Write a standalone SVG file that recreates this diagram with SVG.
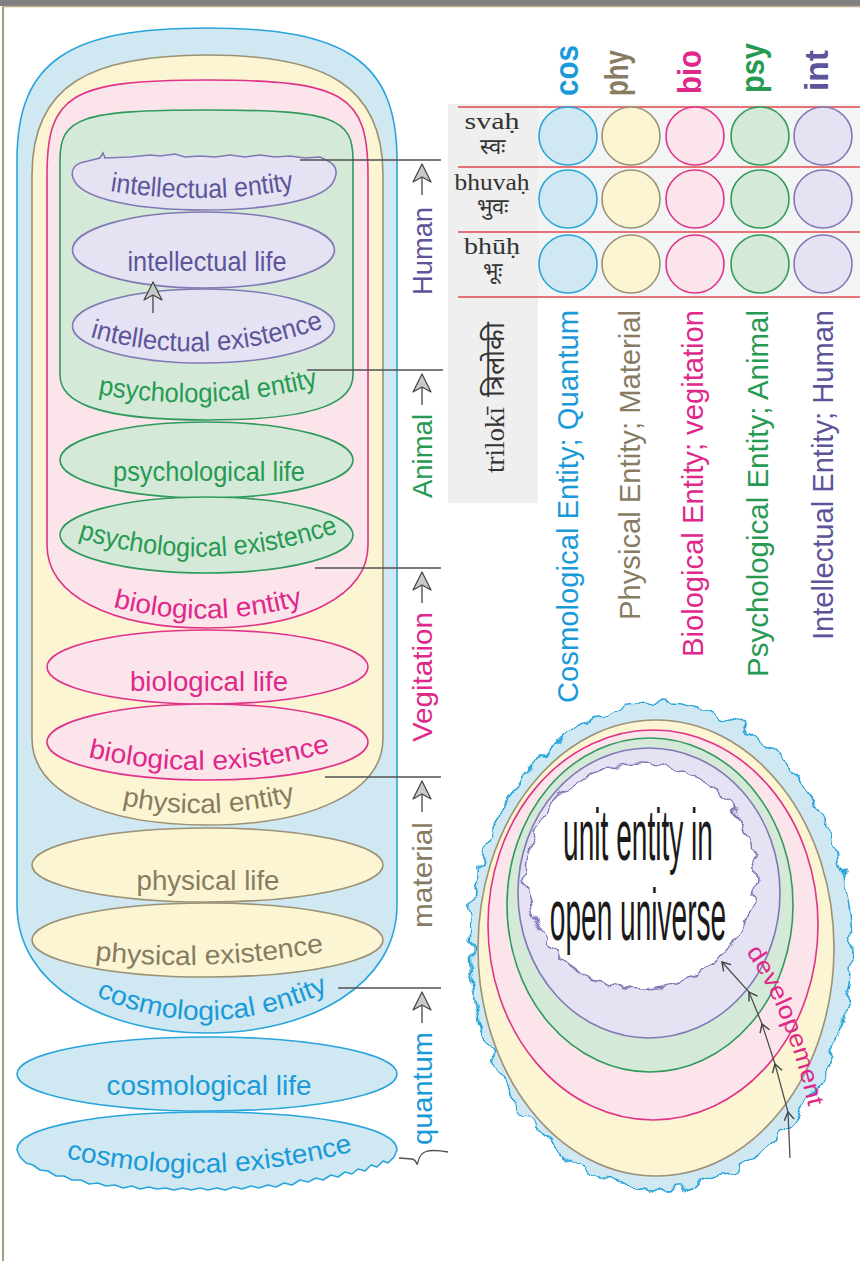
<svg xmlns="http://www.w3.org/2000/svg" width="860" height="1261" viewBox="0 0 860 1261">
<defs>
<style>
.s{font-family:"Liberation Sans",Arial,"Noto Sans",sans-serif}
.sr{font-family:"Liberation Serif","DejaVu Serif","Noto Serif",serif;fill:#333}
.cos{fill:#cfe8f2;stroke:#2aa5dc;stroke-width:1.6}
.phy{fill:#fcf5d3;stroke:#9c9175;stroke-width:1.6}
.bio{fill:#fce4eb;stroke:#e0338a;stroke-width:1.6}
.psy{fill:#d4e9d8;stroke:#2f9a5c;stroke-width:1.6}
.int{fill:#e4e2f3;stroke:#8079b5;stroke-width:1.6}
.cost{fill:#1a9ad8}.phyt{fill:#877c62}.biot{fill:#e0288a}.psyt{fill:#279a52}.intt{fill:#5d5499}
.lbl{font-size:27px}
.conn{stroke:#505050;stroke-width:1.3;fill:none}
</style>
<g id="arw"><line x1="0" y1="0" x2="0" y2="31" stroke="#444" stroke-width="1.3"/><path d="M0,0 L-9,18 L0,13 L9,18 Z" fill="#c9c9c9" stroke="#444" stroke-width="1.2" stroke-linejoin="round"/></g>
<marker id="chev" viewBox="-10 -6 12 12" refX="0" refY="0" markerWidth="12" markerHeight="12" orient="auto" markerUnits="userSpaceOnUse"><path d="M-8,-5 L0,0 L-8,5" fill="none" stroke="#404040" stroke-width="1.4"/></marker>
<filter id="wavy" x="-10%" y="-10%" width="120%" height="120%"><feTurbulence type="fractalNoise" baseFrequency="0.07" numOctaves="1" seed="4" result="n"/><feDisplacementMap in="SourceGraphic" in2="n" scale="22" xChannelSelector="R" yChannelSelector="G"/></filter>
<filter id="wavy2" x="-10%" y="-10%" width="120%" height="120%"><feTurbulence type="fractalNoise" baseFrequency="0.08" numOctaves="1" seed="9" result="n"/><feDisplacementMap in="SourceGraphic" in2="n" scale="18" xChannelSelector="R" yChannelSelector="G"/></filter>
<path id="pIE" d="M110,191 Q205,206 295,189"/>
<path id="pIX" d="M90,337 Q207,370 325,327"/>
<path id="pPE" d="M98,394 Q207,414 318,386"/>
<path id="pPX" d="M78,538 Q207,578 340,532"/>
<path id="pBE" d="M113,607 Q207,631 303,605"/>
<path id="pBX" d="M88,757 Q207,785 330,752"/>
<path id="pHE" d="M122,805 Q207,823 295,801"/>
<path id="pHX" d="M95,960 Q207,973 323,952"/>
<path id="pCE" d="M96,996 Q207,1046 327,992"/>
<path id="pCX" d="M66,1158 Q207,1191 354,1151"/>
<path id="pDev" d="M746,952 Q787,1010 810,1114"/>
</defs>
<rect width="860" height="1261" fill="#ffffff"/>
<rect x="0" y="0" width="860" height="6" fill="#7f7f7f"/>
<line x1="3" y1="6.5" x2="860" y2="6.5" stroke="#b8ad88" stroke-width="1.5"/>
<line x1="3" y1="6.5" x2="3" y2="1261" stroke="#9c9175" stroke-width="1.8"/>

<g id="capsule-cosmological"><path class="cos" d="M17,160 C17,60 70,28 207,28 C344,28 397,60 397,160 L397,905 C397,985 310,1033 207,1033 C104,1033 17,985 17,905 Z"/></g>
<g id="capsule-physical"><path class="phy" d="M32,175 C32,85 90,55 207,55 C325,55 383,85 383,175 L383,738 C383,793 310,825 207,825 C104,825 32,793 32,738 Z"/></g>
<g id="capsule-biological"><path class="bio" d="M47,175 C47,95 70,80 207,80 C345,80 368,95 368,175 L368,545 C368,595 305,628 207,628 C110,628 47,595 47,545 Z"/></g>
<g id="capsule-psychological"><path class="psy" d="M60,160 C60,118 80,110 207,110 C334,110 353,118 353,160 L353,375 C353,400 324,420 207,420 C90,420 60,400 60,375 Z"/></g>

<g id="intellectual-entity"><path class="int" d="M73,178 C70,168 76,163 88,161 L100,158 L103,153 L105,158 L130,157 L150,155 L160,156 L175,154 L185,157 L200,156 L215,157 L230,155 L245,157 L260,155 L275,157 L290,156 L305,158 L320,157 L328,161 C338,166 338,175 332,184 C320,200 270,210 205,210 C140,210 80,200 73,178 Z"/><text class="s lbl intt"><textPath href="#pIE" textLength="185" lengthAdjust="spacingAndGlyphs">intellectual entity</textPath></text></g>
<g id="intellectual-life"><ellipse class="int" cx="203.5" cy="250" rx="131" ry="38"/><text class="s lbl intt" x="207" y="271" text-anchor="middle" textLength="159" lengthAdjust="spacingAndGlyphs">intellectual life</text></g>
<g id="intellectual-existence"><ellipse class="int" cx="203.5" cy="326" rx="131" ry="37"/><text class="s lbl intt"><textPath href="#pIX" textLength="238" lengthAdjust="spacingAndGlyphs">intellectual existence</textPath></text></g>
<g id="psychological-entity"><text class="s lbl psyt"><textPath href="#pPE" textLength="222" lengthAdjust="spacingAndGlyphs">psychological entity</textPath></text></g>
<g id="psychological-life"><ellipse class="psy" cx="206.5" cy="460" rx="146.5" ry="38"/><text class="s lbl psyt" x="209" y="481" text-anchor="middle" textLength="192" lengthAdjust="spacingAndGlyphs">psychological life</text></g>
<g id="psychological-existence"><ellipse class="psy" cx="206.5" cy="535" rx="146.5" ry="38"/><text class="s lbl psyt"><textPath href="#pPX" textLength="265" lengthAdjust="spacingAndGlyphs">psychological existence</textPath></text></g>
<g id="biological-entity"><text class="s lbl biot"><textPath href="#pBE" textLength="192" lengthAdjust="spacingAndGlyphs">biological entity</textPath></text></g>
<g id="biological-life"><ellipse class="bio" cx="207.5" cy="667" rx="160.5" ry="37"/><text class="s lbl biot" x="209" y="691" text-anchor="middle" textLength="158" lengthAdjust="spacingAndGlyphs">biological life</text></g>
<g id="biological-existence"><ellipse class="bio" cx="207.5" cy="742" rx="160.5" ry="38"/><text class="s lbl biot"><textPath href="#pBX" textLength="245" lengthAdjust="spacingAndGlyphs">biological existence</textPath></text></g>
<g id="physical-entity"><text class="s lbl phyt"><textPath href="#pHE" textLength="175" lengthAdjust="spacingAndGlyphs">physical entity</textPath></text></g>
<g id="physical-life"><ellipse class="phy" cx="207.5" cy="865" rx="175.5" ry="37"/><text class="s lbl phyt" x="208" y="890" text-anchor="middle" textLength="143" lengthAdjust="spacingAndGlyphs">physical life</text></g>
<g id="physical-existence"><ellipse class="phy" cx="207.5" cy="940" rx="175.5" ry="37"/><text class="s lbl phyt"><textPath href="#pHX" textLength="230" lengthAdjust="spacingAndGlyphs">physical existence</textPath></text></g>
<g id="cosmological-entity"><text class="s lbl cost"><textPath href="#pCE" textLength="240" lengthAdjust="spacingAndGlyphs">cosmological entity</textPath></text></g>
<g id="cosmological-life"><ellipse class="cos" cx="207" cy="1074" rx="190" ry="37"/><text class="s lbl cost" x="209" y="1095" text-anchor="middle" textLength="205" lengthAdjust="spacingAndGlyphs">cosmological life</text></g>
<g id="cosmological-existence"><path class="cos" stroke-linejoin="round" d="M17,1150 C17,1127 100,1112 207,1112 C314,1112 397,1127 397,1150 L394,1157 L388,1163 L383,1161 L377,1167 L371,1165 L365,1171 L358,1169 L352,1174 L345,1172 L338,1177 L331,1175 L323,1180 L316,1178 L308,1182 L300,1180 L292,1185 L284,1183 L276,1187 L268,1185 L259,1188 L251,1186 L242,1189 L234,1187 L225,1190 L217,1188 L208,1190 L200,1188 L191,1190 L183,1188 L174,1190 L166,1188 L157,1189 L149,1187 L140,1189 L132,1186 L123,1188 L115,1185 L106,1186 L98,1183 L89,1184 L81,1180 L72,1180 L64,1176 L56,1176 L48,1171 L40,1170 L33,1165 L26,1163 L20,1157 Z"/><text class="s lbl cost"><textPath href="#pCX" textLength="290" lengthAdjust="spacingAndGlyphs">cosmological existence</textPath></text></g>

<g id="level-labels" class="s" font-size="28">
<text class="intt" transform="translate(432,295) rotate(-90)" textLength="88" lengthAdjust="spacingAndGlyphs">Human</text>
<text class="psyt" transform="translate(432,498) rotate(-90)" textLength="84" lengthAdjust="spacingAndGlyphs">Animal</text>
<text class="biot" transform="translate(432,742) rotate(-90)" textLength="130" lengthAdjust="spacingAndGlyphs">Vegitation</text>
<text class="phyt" transform="translate(432,928) rotate(-90)" textLength="106" lengthAdjust="spacingAndGlyphs">material</text>
<text class="cost" transform="translate(432,1145) rotate(-90)" textLength="113" lengthAdjust="spacingAndGlyphs">quantum</text>
</g>

<g id="triloki-table">
<rect x="448" y="104" width="412" height="194" fill="#f3f4f4"/>
<rect x="448" y="104" width="90" height="399" fill="#efefef"/>
<g stroke="#e2474f" stroke-width="1.5">
<line x1="458" y1="107" x2="860" y2="107"/>
<line x1="458" y1="167" x2="860" y2="167"/>
<line x1="458" y1="232" x2="860" y2="232"/>
<line x1="458" y1="297" x2="860" y2="297"/>
</g>
<g id="row-svah">
<circle class="cos" cx="568" cy="136" r="29"/><circle class="phy" cx="631" cy="136" r="29"/><circle class="bio" cx="695" cy="136" r="29"/><circle class="psy" cx="760" cy="136" r="29"/><circle class="int" cx="823" cy="136" r="29"/>
<text class="sr" x="492" y="129" font-size="23" text-anchor="middle" textLength="55" lengthAdjust="spacingAndGlyphs">svaḥ</text>
<text class="sr" x="492" y="154" font-size="22" text-anchor="middle">स्वः</text>
</g>
<g id="row-bhuvah">
<circle class="cos" cx="568" cy="199" r="29"/><circle class="phy" cx="631" cy="199" r="29"/><circle class="bio" cx="695" cy="199" r="29"/><circle class="psy" cx="760" cy="199" r="29"/><circle class="int" cx="823" cy="199" r="29"/>
<text class="sr" x="492" y="190" font-size="23" text-anchor="middle" textLength="75" lengthAdjust="spacingAndGlyphs">bhuvaḥ</text>
<text class="sr" x="492" y="214" font-size="22" text-anchor="middle">भुवः</text>
</g>
<g id="row-bhuh">
<circle class="cos" cx="568" cy="264" r="29"/><circle class="phy" cx="631" cy="264" r="29"/><circle class="bio" cx="695" cy="264" r="29"/><circle class="psy" cx="760" cy="264" r="29"/><circle class="int" cx="823" cy="264" r="29"/>
<text class="sr" x="492" y="254" font-size="23" text-anchor="middle" textLength="56" lengthAdjust="spacingAndGlyphs">bhūḥ</text>
<text class="sr" x="492" y="278" font-size="22" text-anchor="middle">भूः</text>
</g>
<text class="sr" font-size="27" transform="translate(504,473) rotate(-90)">trilokī<tspan dx="10">त्रिलोकी</tspan></text>
<g id="headers" class="s" font-size="34" font-weight="bold">
<text class="cost" transform="translate(578,96) rotate(-90)" textLength="51" lengthAdjust="spacingAndGlyphs">cos</text>
<text class="phyt" transform="translate(628,96) rotate(-90)" textLength="46" lengthAdjust="spacingAndGlyphs">phy</text>
<text class="biot" transform="translate(701,94) rotate(-90)" textLength="44" lengthAdjust="spacingAndGlyphs">bio</text>
<text class="psyt" transform="translate(764,93) rotate(-90)" textLength="50" lengthAdjust="spacingAndGlyphs">psy</text>
<text class="intt" transform="translate(828,91) rotate(-90)" textLength="41" lengthAdjust="spacingAndGlyphs">int</text>
</g>
</g>

<g id="legend" class="s" font-size="29">
<text class="cost" transform="translate(578,703) rotate(-90)" textLength="393" lengthAdjust="spacingAndGlyphs">Cosmological Entity; Quantum</text>
<text class="phyt" transform="translate(640,620) rotate(-90)" textLength="310" lengthAdjust="spacingAndGlyphs">Physical Entity; Material</text>
<text class="biot" transform="translate(703,657) rotate(-90)" textLength="347" lengthAdjust="spacingAndGlyphs">Biological Entity; vegitation</text>
<text class="psyt" transform="translate(768,677) rotate(-90)" textLength="367" lengthAdjust="spacingAndGlyphs">Psychological Entity; Animal</text>
<text class="intt" transform="translate(833,640) rotate(-90)" textLength="330" lengthAdjust="spacingAndGlyphs">Intellectual Entity; Human</text>
</g>

<g id="open-universe">
<ellipse class="cos" cx="661" cy="946" rx="191" ry="243" filter="url(#wavy)"/>
<ellipse class="phy" cx="656" cy="948" rx="178" ry="228"/>
<ellipse class="bio" cx="653" cy="925" rx="165" ry="195"/>
<ellipse class="psy" cx="650" cy="905" rx="143" ry="167"/>
<ellipse class="int" cx="649" cy="893" rx="131" ry="145"/>
<ellipse cx="641" cy="876" rx="115" ry="113" fill="#ffffff" stroke="#8079b5" stroke-width="1.6" filter="url(#wavy2)"/>
<text class="s" transform="translate(638,860) scale(0.39,1)" font-size="72" fill="#1a1a1a" text-anchor="middle">unit entity in</text>
<text class="s" transform="translate(638,940) scale(0.39,1)" font-size="72" fill="#1a1a1a" text-anchor="middle">open universe</text>
<text class="s biot" font-size="24"><textPath href="#pDev" textLength="168" lengthAdjust="spacingAndGlyphs">developement</textPath></text>
</g>

<g id="connectors">
<line class="conn" x1="300" y1="160" x2="441" y2="160"/>
<line class="conn" x1="307" y1="370" x2="443" y2="370"/>
<line class="conn" x1="315" y1="568" x2="441" y2="568"/>
<line class="conn" x1="325" y1="777" x2="441" y2="777"/>
<line class="conn" x1="338" y1="988" x2="441" y2="988"/>
<use href="#arw" x="422" y="164"/>
<use href="#arw" x="422" y="374"/>
<use href="#arw" x="422" y="572"/>
<use href="#arw" x="422" y="781"/>
<use href="#arw" x="422" y="992"/>
<use href="#arw" x="153" y="282"/>
<path class="conn" d="M399,1158 L412,1159 C418,1160 416,1168 418,1162 C420,1152 426,1148 448,1152"/>
<polyline class="conn" points="790,1158 788,1112 775,1064 762,1024 749,992 722,962" marker-mid="url(#chev)" marker-end="url(#chev)"/>
</g>
</svg>
